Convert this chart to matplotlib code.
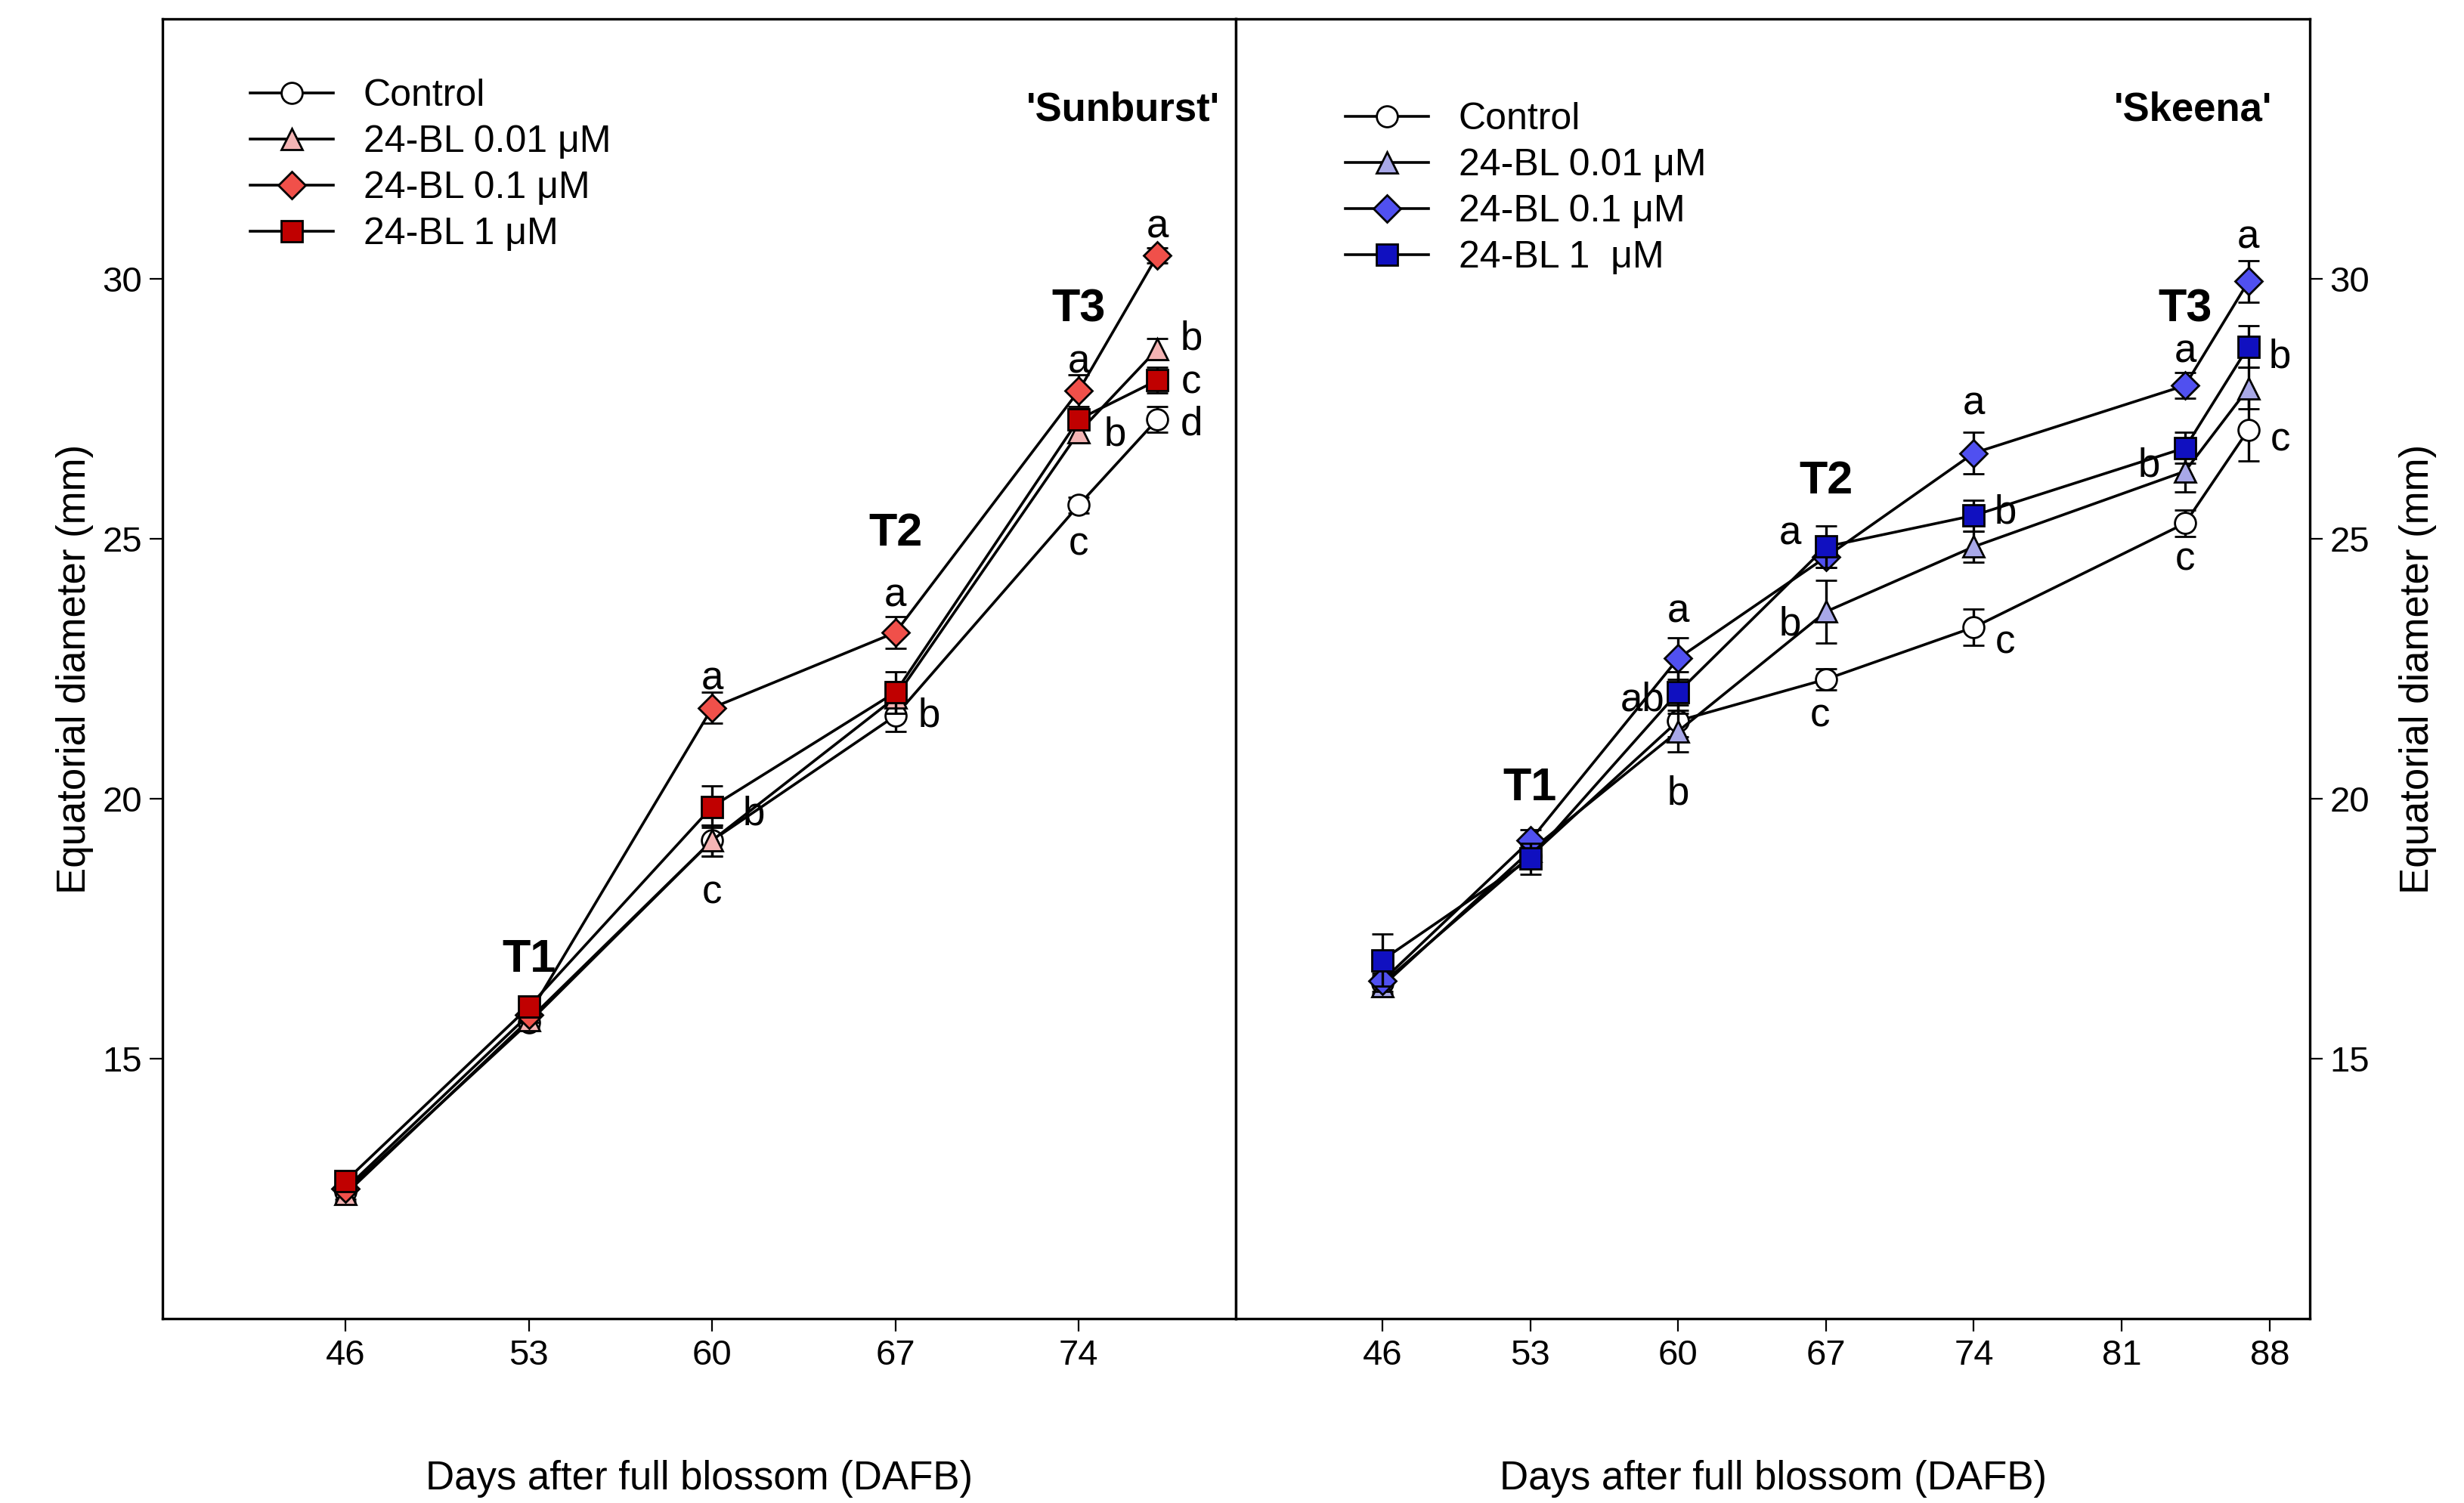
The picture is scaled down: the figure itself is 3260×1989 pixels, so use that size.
import matplotlib
matplotlib.use("Agg")
import matplotlib.pyplot as plt
from matplotlib.lines import Line2D

plt.rcParams.update({"font.family": "Liberation Sans", "font.size": 17})

labels = ["Control", "24-BL 0.01 μM", "24-BL 0.1 μM", "24-BL 1 μM"]
labels_r = ["Control", "24-BL 0.01 μM", "24-BL 0.1 μM", "24-BL 1  μM"]
markers = ["o", "^", "D", "s"]
col_l = ["white", "#f4b4b4", "#f0504a", "#c00000"]
col_r = ["white", "#a8a8e8", "#5050f0", "#1010c0"]

days_l = [46, 53, 60, 67, 74, 77]
sun = [
    [12.45, 15.7, 19.2, 21.6, 25.65, 27.3],
    [12.4, 15.75, 19.2, 21.95, 27.05, 28.65],
    [12.5, 15.85, 21.75, 23.2, 27.85, 30.45],
    [12.65, 16.0, 19.85, 22.05, 27.3, 28.05],
]
sun_err = [
    [0.15, 0.15, 0.3, 0.3, 0.15, 0.25],
    [0.15, 0.15, 0.3, 0.3, 0.2, 0.2],
    [0.1, 0.15, 0.3, 0.3, 0.3, 0.15],
    [0.15, 0.2, 0.4, 0.4, 0.2, 0.25],
]
days_r = [46, 53, 60, 67, 74, 84, 87]
ske = [
    [16.45, 18.9, 21.5, 22.3, 23.3, 25.3, 27.1],
    [16.4, 19.0, 21.3, 23.6, 24.85, 26.3, 27.9],
    [16.5, 19.2, 22.7, 24.65, 26.65, 27.95, 29.95],
    [16.9, 18.85, 22.05, 24.85, 25.45, 26.75, 28.7],
]
ske_err = [
    [0.2, 0.2, 0.3, 0.2, 0.35, 0.25, 0.6],
    [0.2, 0.2, 0.4, 0.6, 0.3, 0.4, 0.4],
    [0.2, 0.2, 0.4, 0.2, 0.4, 0.25, 0.4],
    [0.5, 0.3, 0.4, 0.4, 0.3, 0.3, 0.4],
]
ann_l = [(60, 22.3, "a"), (61.6, 19.7, "b"), (60, 18.2, "c"),
         (67, 23.9, "a"), (68.3, 21.6, "b"),
         (74, 28.4, "a"), (75.4, 27.0, "b"), (74, 24.9, "c"),
         (77, 31.0, "a"), (78.3, 28.85, "b"), (78.3, 28.0, "c"), (78.3, 27.2, "d")]
ann_r = [(60, 23.6, "a"), (58.3, 21.9, "ab"), (60, 20.1, "b"),
         (65.3, 25.1, "a"), (65.3, 23.35, "b"), (66.7, 21.6, "c"),
         (74, 27.6, "a"), (75.5, 25.5, "b"), (75.5, 23.0, "c"),
         (84, 28.6, "a"), (82.3, 26.4, "b"), (84, 24.6, "c"),
         (87, 30.8, "a"), (88.5, 28.5, "b"), (88.5, 26.9, "c")]
tlab_l = [(53, 16.9, "T1"), (67, 25.1, "T2"), (74, 29.4, "T3")]
tlab_r = [(53, 20.2, "T1"), (67, 26.1, "T2"), (84, 29.4, "T3")]

fig = plt.figure(figsize=(16.3, 9.945), dpi=200)
axl = fig.add_axes([103 / 1565, 1 - 838 / 955, 682 / 1565, 826 / 955])
axr = fig.add_axes([785 / 1565, 1 - 838 / 955, 682 / 1565, 826 / 955])


def panel(ax, days, vals, errs, cols, labs, anns, tlabs, title, tx):
    handles = []
    for i in range(4):
        ms = 10 if i != 2 else 9
        ax.errorbar(days, vals[i], yerr=errs[i], marker=markers[i], color="black",
                    mfc=cols[i], mec="black", ms=ms, lw=1.3,
                    capsize=5, elinewidth=1.2, zorder=3 + i)
        handles.append(Line2D([], [], marker=markers[i], color="black", mfc=cols[i],
                              mec="black", ms=ms, lw=1.3, label=labs[i]))
    for x, y, t in anns:
        ax.text(x, y, t, ha="center", va="center", fontsize=19)
    for x, y, t in tlabs:
        ax.text(x, y, t, ha="center", va="center", fontsize=22, fontweight="bold")
    ax.text(tx, 0.93, title, transform=ax.transAxes, ha="right", va="center",
            fontsize=19, fontweight="bold")
    ax.set_ylim(10, 35)
    ax.set_yticks([15, 20, 25, 30])
    ax.tick_params(direction="out", length=6, labelsize=17)
    ax.set_xlabel("Days after full blossom (DAFB)", fontsize=19, labelpad=42)
    ax.set_ylabel("Equatorial diameter (mm)", fontsize=19)
    for s in ax.spines.values():
        s.set_linewidth(1.2)
    return handles


h = panel(axl, days_l, sun, sun_err, col_l, labels, ann_l, tlab_l, "'Sunburst'", 0.985)
axl.set_xlim(39, 80)
axl.set_xticks([46, 53, 60, 67, 74])
axl.legend(handles=h, loc="upper left", bbox_to_anchor=(0.05, 0.98), frameon=False,
           fontsize=18, handlelength=2.2, labelspacing=0.3)

h = panel(axr, days_r, ske, ske_err, col_r, labels_r, ann_r, tlab_r, "'Skeena'", 0.965)
axr.set_xlim(39.07, 89.9)
axr.set_xticks([46, 53, 60, 67, 74, 81, 88])
axr.yaxis.tick_right()
axr.yaxis.set_label_position("right")
axr.set_ylabel("Equatorial diameter (mm)", fontsize=19, labelpad=14)
axr.legend(handles=h, loc="upper left", bbox_to_anchor=(0.07, 0.962), frameon=False,
           fontsize=18, handlelength=2.2, labelspacing=0.3)

fig.savefig("out.png", dpi=200)
